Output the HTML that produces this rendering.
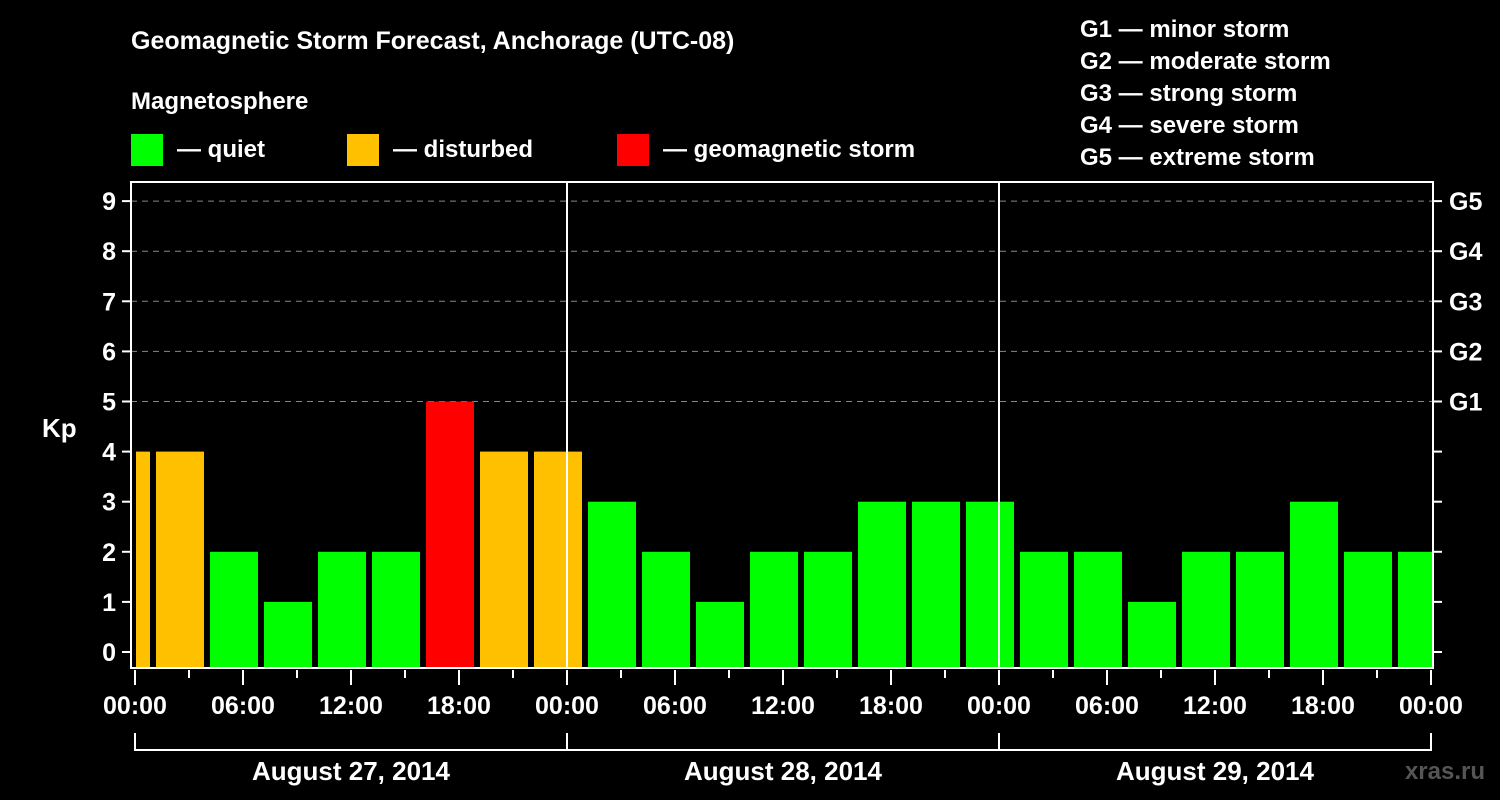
<!DOCTYPE html>
<html><head><meta charset="utf-8"><style>
body{margin:0;background:#000;width:1500px;height:800px;overflow:hidden}
svg{display:block;font-family:"Liberation Sans",Arial,sans-serif;font-weight:bold}
</style></head><body>
<svg id="c" width="1500" height="800">
<text x="131" y="49" fill="#fff" font-size="25">Geomagnetic Storm Forecast, Anchorage (UTC-08)</text>
<text x="131" y="109" fill="#fff" font-size="24">Magnetosphere</text>
<g><rect x="131" y="134" width="32" height="32" fill="#00ff00"/><text x="177" y="157" fill="#fff" font-size="24">— quiet</text></g>
<g><rect x="347" y="134" width="32" height="32" fill="#ffc000"/><text x="393" y="157" fill="#fff" font-size="24">— disturbed</text></g>
<g><rect x="617" y="134" width="32" height="32" fill="#ff0000"/><text x="663" y="157" fill="#fff" font-size="24">— geomagnetic storm</text></g>
<g fill="#fff" font-size="24">
<text x="1080" y="37">G1 — minor storm</text><text x="1080" y="69">G2 — moderate storm</text><text x="1080" y="101">G3 — strong storm</text><text x="1080" y="133">G4 — severe storm</text><text x="1080" y="165">G5 — extreme storm</text></g>
<text x="42" y="437" fill="#fff" font-size="26">Kp</text>
<text x="1485" y="779" fill="#555" font-size="24" text-anchor="end">xras.ru</text>
<g id="plot"></g>
</svg>
<script>
const kpValues=[4,4,2,1,2,2,5,4,4,3,2,1,2,2,3,3,3,2,2,1,2,2,3,2,2];
const binStartHours=[-2,1,4,7,10,13,16,19,22,25,28,31,34,37,40,43,46,49,52,55,58,61,64,67,70];
const yTicks=[0,1,2,3,4,5,6,7,8,9];
const gLabels=["","","","","","G1","G2","G3","G4","G5"];
const xTickLabels=["00:00","06:00","12:00","18:00","00:00","06:00","12:00","18:00","00:00","06:00","12:00","18:00","00:00"];
const dateLabels=["August 27, 2014","August 28, 2014","August 29, 2014"];
const NS="http://www.w3.org/2000/svg";
const g=document.getElementById('plot');
const L=131,R=1433,T=182,B=668;
const x=h=>135+18*h;
const y=v=>652-50.1*v;
function mk(tag,a){const e=document.createElementNS(NS,tag);for(const k in a)e.setAttribute(k,a[k]);g.appendChild(e);return e;}
yTicks.forEach((v,i)=>{
 if(v>=5){const l=mk('line',{x1:L,x2:R,y1:y(v),y2:y(v),stroke:'#888','stroke-dasharray':'6,5','stroke-width':1});
 
 }
 mk('line',{x1:122,x2:L,y1:y(v),y2:y(v),stroke:'#fff','stroke-width':2});
 mk('line',{x1:R,x2:1442,y1:y(v),y2:y(v),stroke:'#fff','stroke-width':2});
 const t=mk('text',{x:116,y:y(v)+9,fill:'#fff','font-size':25,'text-anchor':'end'});t.textContent=v;
 
 
 if(gLabels[i]){const t2=mk('text',{x:1449,y:y(v)+9,fill:'#fff','font-size':25});t2.textContent=gLabels[i];
 
 }
});
kpValues.forEach((v,i)=>{
 let x0=x(binStartHours[i])+3,x1=x0+48;
 x0=Math.max(x0,136);x1=Math.min(x1,1432);
 const c=v>=5?'#ff0000':(v>=4?'#ffc000':'#00ff00');
 const r=mk('rect',{x:x0,y:y(v),width:x1-x0,height:B-y(v),fill:c});
 
 
});
[24,48].forEach(h=>mk('line',{x1:x(h),x2:x(h),y1:T,y2:B,stroke:'#fff','stroke-width':2}));
const fr=mk('rect',{x:L,y:T,width:R-L,height:B-T,fill:'none',stroke:'#fff','stroke-width':2});


for(let h=0;h<=72;h+=3){
 const major=h%6===0;
 mk('line',{x1:x(h),x2:x(h),y1:B+2,y2:B+(major?17:10),stroke:'#fff','stroke-width':2});
}
xTickLabels.forEach((s,i)=>{const t=mk('text',{x:x(i*6),y:714,fill:'#fff','font-size':25,'text-anchor':'middle'});t.textContent=s;
 
 });
mk('line',{x1:x(0),x2:x(72),y1:750,y2:750,stroke:'#fff','stroke-width':2});
[0,24,48,72].forEach(h=>mk('line',{x1:x(h),x2:x(h),y1:733,y2:751,stroke:'#fff','stroke-width':2}));
dateLabels.forEach((s,i)=>{const t=mk('text',{x:x(i*24+12),y:780,fill:'#fff','font-size':26,'text-anchor':'middle'});t.textContent=s;
 
 });
</script>
</body></html>
